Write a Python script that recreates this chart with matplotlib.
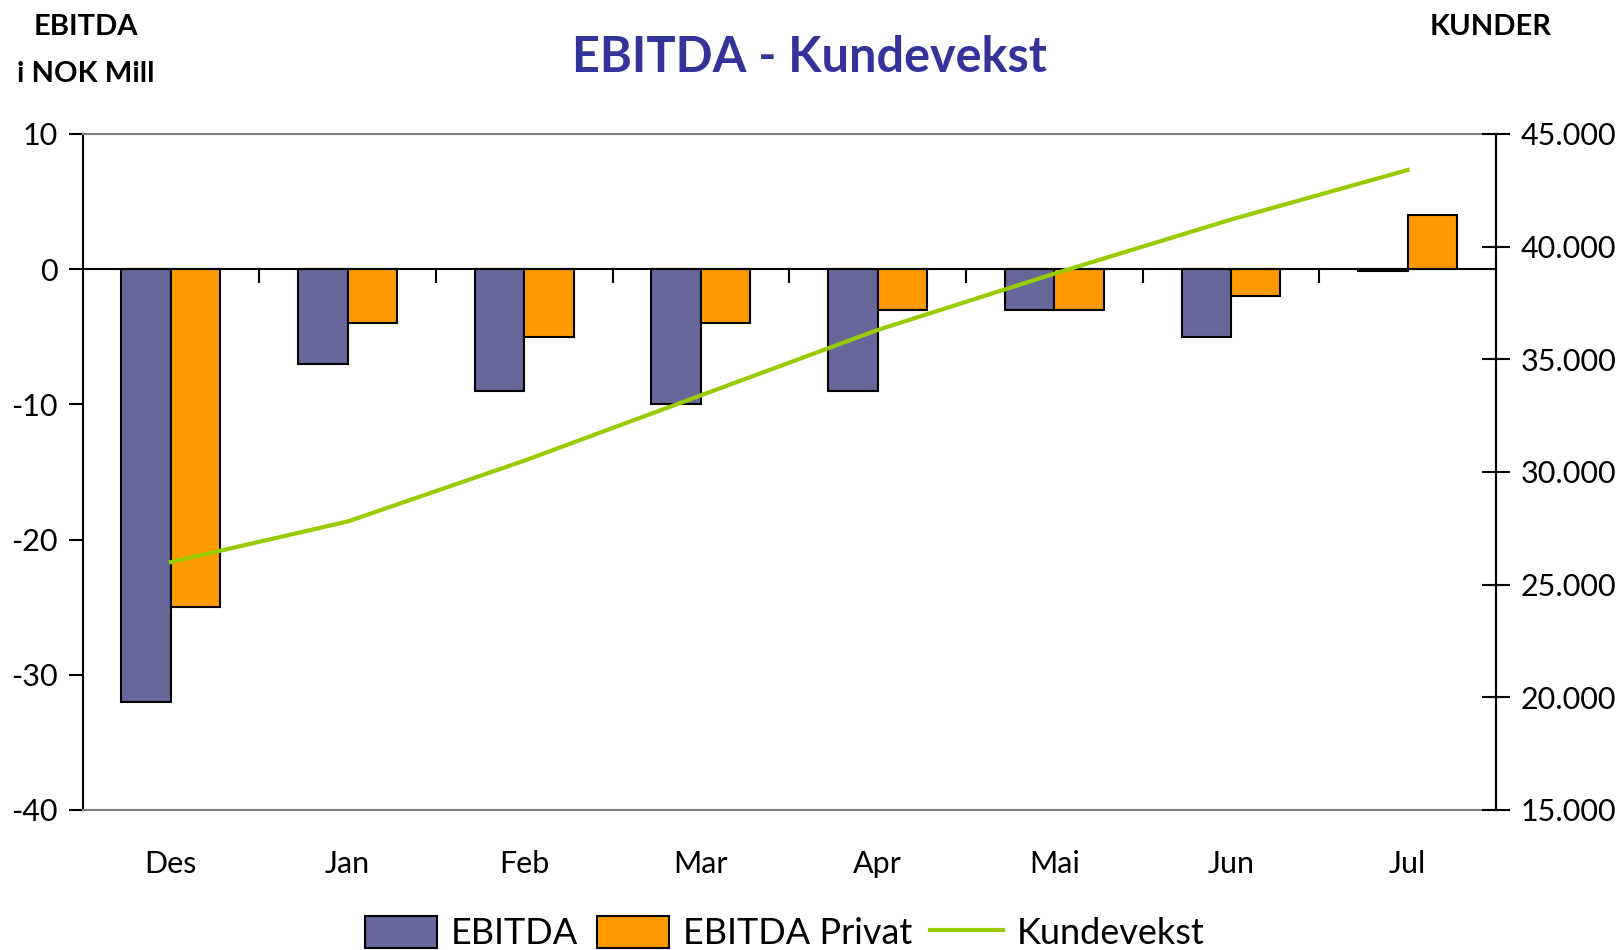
import numpy as np
import matplotlib
matplotlib.use("Agg")
import matplotlib.pyplot as plt
from matplotlib.patches import Patch
from matplotlib.lines import Line2D
from matplotlib.ticker import FuncFormatter

plt.rcParams['font.family'] = ['Lato', 'DejaVu Sans']
plt.rcParams['axes.unicode_minus'] = False

# data
maaneder = ['Des', 'Jan', 'Feb', 'Mar', 'Apr', 'Mai', 'Jun', 'Jul']
ebitda = [-32, -7, -9, -10, -9, -3, -5, -0.15]
ebitda_privat = [-25, -4, -5, -4, -3, -3, -2, 4]
kunder = [26000, 27800, 30500, 33400, 36300, 38800, 41200, 43400]

blaa = '#666699'
oransje = '#FF9900'
gronn = '#99CC00'

fig = plt.figure(figsize=(16.18, 9.5), dpi=100)
pos = [0.051, 0.1474, 0.8736, 0.7116]
ax = fig.add_axes(pos)

x = np.arange(len(maaneder))
b = 0.28
ax.bar(x - b / 2, ebitda, b, color=blaa, edgecolor='black', linewidth=1.5, zorder=3)
ax.bar(x + b / 2, ebitda_privat, b, color=oransje, edgecolor='black', linewidth=1.5, zorder=3)

ax.set_xlim(-0.5, len(maaneder) - 0.5)
ax.set_ylim(-40, 10)
ax.set_yticks([-40, -30, -20, -10, 0, 10])
ax.set_xticks(x)
ax.set_xticklabels(maaneder, fontsize=22)
ax.tick_params(axis='x', length=0, pad=29)
ax.tick_params(axis='y', direction='out', length=10, width=1.5, labelsize=22, pad=8)

for s in ['top', 'bottom']:
    ax.spines[s].set_color('#808080')
    ax.spines[s].set_linewidth(1.5)
ax.spines['left'].set_linewidth(1.5)
ax.spines['right'].set_linewidth(1.5)

# x-akse gjennom null med tikk mellom kategoriene (eget gjennomsiktig axes)
null_y = (0 - (-40)) / (10 - (-40))
ax0 = fig.add_axes(pos, facecolor='none')
ax0.set_xlim(ax.get_xlim())
ax0.set_yticks([])
for s in ['top', 'left', 'right']:
    ax0.spines[s].set_visible(False)
ax0.spines['bottom'].set_position(('axes', null_y))
ax0.spines['bottom'].set_linewidth(1.5)
ax0.set_xticks(np.arange(0.5, len(maaneder) - 0.5, 1.0))
ax0.tick_params(axis='x', direction='out', length=10, width=1.5, labelbottom=False)
ax0.set_zorder(ax.get_zorder() + 0.5)

ax2 = ax.twinx()
ax2.set_zorder(ax0.get_zorder() + 1)
ax2.plot(x, kunder, color=gronn, linewidth=3, zorder=5)
ax2.set_ylim(15000, 45000)
ax2.set_yticks(np.arange(15000, 45001, 5000))
ax2.yaxis.set_major_formatter(FuncFormatter(lambda v, p: f'{int(v):,}'.replace(',', '.')))
ax2.tick_params(axis='y', direction='inout', length=20, width=1.5, labelsize=22, pad=8)
for s in ['top', 'bottom', 'left']:
    ax2.spines[s].set_visible(False)
ax2.spines['right'].set_linewidth(1.5)

fig.text(0.5, 0.94, 'EBITDA - Kundevekst', ha='center', va='center',
         fontsize=35, fontweight='bold', color='#333399')
fig.text(0.053, 0.972, 'EBITDA', ha='center', va='center', fontsize=21, fontweight='bold')
fig.text(0.053, 0.922, 'i NOK Mill', ha='center', va='center', fontsize=21, fontweight='bold')
fig.text(0.921, 0.972, 'KUNDER', ha='center', va='center', fontsize=21, fontweight='bold')

handles = [Patch(facecolor=blaa, edgecolor='black', linewidth=1.5),
           Patch(facecolor=oransje, edgecolor='black', linewidth=1.5),
           Line2D([0], [0], color=gronn, linewidth=3)]
fig.legend(handles, ['EBITDA', 'EBITDA Privat', 'Kundevekst'], loc='center',
           bbox_to_anchor=(0.485, 0.018), ncol=3, frameon=False, fontsize=26,
           handlelength=2.0, handleheight=1.0, columnspacing=0.5, handletextpad=0.4,
           borderpad=0)

fig.savefig('out.png', dpi=100)
